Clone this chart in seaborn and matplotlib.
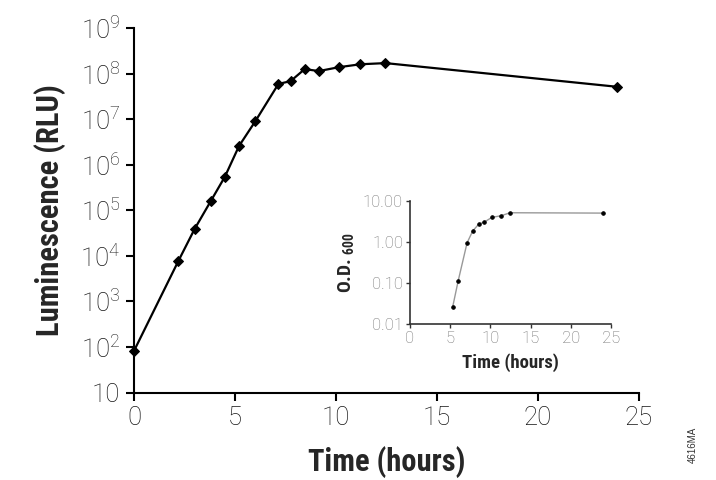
import matplotlib
matplotlib.use("Agg")
import matplotlib.pyplot as plt
import seaborn as sns
import pandas as pd
import numpy as np

# Main curve: luminescence vs time
time_h = [0, 2.2, 3.0, 3.8, 4.5, 5.2, 6.0, 7.15, 7.75, 8.45, 9.15, 10.15, 11.2, 12.45, 23.9]
lum_rlu = [82, 7.8e3, 3.9e4, 1.6e5, 5.5e5, 2.6e6, 9.0e6, 6.0e7, 6.9e7, 1.27e8, 1.15e8, 1.4e8, 1.62e8, 1.72e8, 5.2e7]

# Inset: OD600 vs time
od_time = [5.3, 6.0, 7.1, 7.8, 8.55, 9.2, 10.2, 11.3, 12.45, 24.0]
od600 = [0.026, 0.115, 0.95, 1.84, 2.7, 3.0, 3.95, 4.3, 5.1, 5.0]

main_yticks = [1e1, 1e2, 1e3, 1e4, 1e5, 1e6, 1e7, 1e8, 1e9]
main_ylabels = ["10", "$10^{2}$", "$10^{3}$", "$10^{4}$", "$10^{5}$", "$10^{6}$", "$10^{7}$", "$10^{8}$", "$10^{9}$"]
main_xticks = [0, 5, 10, 15, 20, 25]
inset_yticks = [0.01, 0.1, 1, 10]
inset_ylabels = ["0.01", "0.10", "1.00", "10.00"]
inset_xticks = [0, 5, 10, 15, 20, 25]

sns.set_style("ticks")
LIGHT = ['Roboto', 'Liberation Sans', 'DejaVu Sans']
COND = ['Roboto Condensed', 'Archivo Narrow', 'Liberation Sans', 'DejaVu Sans']
plt.rcParams['font.family'] = LIGHT
plt.rcParams['font.weight'] = 'light'
plt.rcParams['mathtext.fontset'] = 'custom'
plt.rcParams['mathtext.rm'] = 'Roboto:light'
plt.rcParams['mathtext.it'] = 'Roboto:light'
plt.rcParams['mathtext.default'] = 'regular'

W, H = 716, 480
fig = plt.figure(figsize=(W / 100, H / 100), dpi=100)

def frac_box(x0, x1, ytop, ybot):
    return [x0 / W, 1 - ybot / H, (x1 - x0) / W, (ybot - ytop) / H]

ax = fig.add_axes(frac_box(134, 639, 28.3, 392.5))
df = pd.DataFrame({"t": time_h, "lum": lum_rlu})
sns.lineplot(data=df, x="t", y="lum", ax=ax, color="black", linewidth=1.6,
             marker="D", markersize=5.5, markeredgecolor="black", clip_on=False)
ax.set_yscale("log")
ax.set_xlim(0, 25)
ax.set_ylim(10, 1e9)
ax.set_yticks(main_yticks)
ax.set_yticklabels(main_ylabels)
ax.minorticks_off()
ax.set_xticks(main_xticks)
ax.set_xticklabels([str(v) for v in main_xticks])
for s in ["top", "right"]:
    ax.spines[s].set_visible(False)
for s in ["left", "bottom"]:
    ax.spines[s].set_linewidth(1.5)
    ax.spines[s].set_color("black")
ax.tick_params(axis="both", direction="out", length=6, width=1.5, color="black",
               labelsize=18.5, labelcolor="#151515", pad=4)
ax.set_xlabel("Time (hours)", fontsize=22, fontweight="bold", family=COND, labelpad=11)
ax.set_ylabel("Luminescence (RLU)", fontsize=22, fontweight="bold", family=COND, labelpad=10)

# Inset
axi = fig.add_axes(frac_box(410, 611, 200.7, 324.3))
dfi = pd.DataFrame({"t": od_time, "od": od600})
sns.lineplot(data=dfi, x="t", y="od", ax=axi, color="#999999", linewidth=1.0,
             marker="o", markersize=2.5, markerfacecolor="black", markeredgecolor="black",
             clip_on=False)
axi.set_yscale("log")
axi.set_xlim(0, 25)
axi.set_ylim(0.01, 10)
axi.set_yticks(inset_yticks)
axi.set_yticklabels(inset_ylabels)
axi.minorticks_off()
axi.set_xticks(inset_xticks)
axi.set_xticklabels([str(v) for v in inset_xticks])
axi.patch.set_alpha(0)
for s in ["top", "right"]:
    axi.spines[s].set_visible(False)
for s in ["left", "bottom"]:
    axi.spines[s].set_linewidth(1.2)
    axi.spines[s].set_color("#333333")
axi.tick_params(axis="both", direction="out", length=3, width=1.0, color="#333333",
                labelsize=12, labelcolor="#707070", pad=2)
axi.set_xlabel("Time (hours)", fontsize=13.5, fontweight="bold", family=COND, labelpad=5)
axi.set_ylabel("O.D. $_{600}$", fontsize=14, fontweight="bold", family=COND, labelpad=5)

fig.text(693 / W, 1 - 445 / H, "4616MA", rotation=90, fontsize=7, color="#333333",
         ha="center", va="center", family=['Liberation Sans'])

fig.savefig("out.png", dpi=100)
